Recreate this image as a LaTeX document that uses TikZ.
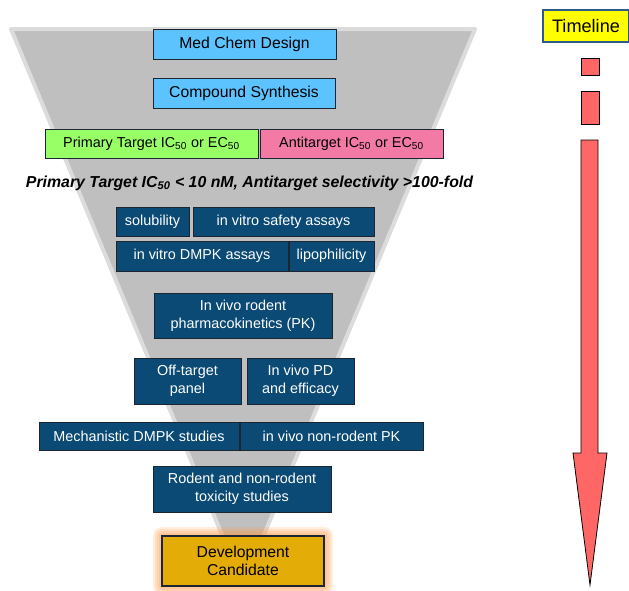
\documentclass[tikz,border=0pt]{standalone}
\usepackage{fontspec}
\setmainfont{Liberation Sans}
\usetikzlibrary{calc}
\definecolor{medblue}{HTML}{5CC3FF}
\definecolor{primgreen}{HTML}{99FF66}
\definecolor{antipink}{HTML}{F27AA4}
\definecolor{assay}{HTML}{0B4A74}
\definecolor{edge}{HTML}{1C2530}
\definecolor{funnelgrey}{HTML}{BFBFBF}
\definecolor{funnelrim}{HTML}{DCDCDC}
\definecolor{gold}{HTML}{E4AC06}
\definecolor{glow}{HTML}{FF9A4A}
\definecolor{tlyellow}{HTML}{FFFF00}
\definecolor{tlrim}{HTML}{2E5A8C}
\definecolor{tlred}{HTML}{FF6666}
\newcommand{\boxfont}{\fontsize{11.8}{14}\selectfont}
\newcommand{\cellfont}{\fontsize{10.8}{13.4}\selectfont}

\begin{document}
\begin{tikzpicture}[x=0.75pt,y=-0.75pt,
  lightbox/.style={draw=edge,line width=0.6pt,fill=medblue,inner sep=0,font=\boxfont},
  targetbox/.style={draw=edge,line width=0.6pt,inner sep=0,font=\cellfont},
  cell/.style={draw=edge,line width=0.6pt,fill=assay,text=white,inner sep=0,align=center,font=\cellfont}]
\useasboundingbox (0,0) rectangle (629,590);
% funnel
\filldraw[fill=funnelgrey,draw=funnelrim,line width=3pt,line join=round] (11,29) -- (475,29) -- (243,585) -- cycle;
% top of the funnel
\node[lightbox,minimum width=183*0.75pt,minimum height=30*0.75pt] (design) at (244.5,44) {Med Chem Design};
\node[lightbox,minimum width=182*0.75pt,minimum height=30*0.75pt] (synth) at (244,93.5) {Compound Synthesis};
\node[targetbox,fill=primgreen,minimum width=213*0.75pt,minimum height=29*0.75pt] (primary) at (151.5,143.5) {Primary Target IC\textsubscript{50} or EC\textsubscript{50}};
\node[targetbox,fill=antipink,minimum width=183*0.75pt,minimum height=29*0.75pt] (anti) at (351.5,143.5) {Antitarget IC\textsubscript{50} or EC\textsubscript{50}};
\node[inner sep=0,font=\fontsize{11.9}{14}\selectfont\bfseries\itshape] (criteria) at (249.5,183) {Primary Target IC\textsubscript{50} < 10 nM, Antitarget selectivity >100-fold};
% assay cells
\node[cell,minimum width=73*0.75pt,minimum height=29*0.75pt] (solub) at (152.5,221.5) {solubility};
\node[cell,minimum width=181*0.75pt,minimum height=29*0.75pt] (safety) at (283.5,221.5) {in vitro safety assays};
\node[cell,minimum width=172*0.75pt,minimum height=30*0.75pt] (dmpk) at (202,256) {in vitro DMPK assays};
\node[cell,minimum width=85*0.75pt,minimum height=30*0.75pt] (lipo) at (331.5,256) {lipophilicity};
\node[cell,minimum width=178*0.75pt,minimum height=45*0.75pt] (rodpk) at (243,315.5) {In vivo rodent\\pharmacokinetics (PK)};
\node[cell,minimum width=107*0.75pt,minimum height=46*0.75pt] (offtarget) at (187.5,381) {Off-target\\panel};
\node[cell,minimum width=107*0.75pt,minimum height=46*0.75pt] (pd) at (300.5,381) {In vivo PD\\and efficacy};
\node[cell,minimum width=200*0.75pt,minimum height=28*0.75pt] (mech) at (139,436) {Mechanistic DMPK studies};
\node[cell,minimum width=183*0.75pt,minimum height=28*0.75pt] (nonrodpk) at (331.5,436) {in vivo non-rodent PK};
\node[cell,minimum width=178*0.75pt,minimum height=46*0.75pt] (tox) at (242,489) {Rodent and non-rodent\\toxicity studies};
% candidate with its glow
\foreach \g in {9,7,5,3}
  \fill[glow,opacity=0.18,rounded corners=\g*0.75pt] ($(162,536)+(-\g,-\g)$) rectangle ($(324,586)+(\g,\g)$);
\node[draw=edge,line width=1.2pt,fill=gold,inner sep=0,align=center,font=\boxfont,minimum width=162*0.75pt,minimum height=50*0.75pt] (candidate) at (243,561) {Development\\Candidate};
% timeline
\node[draw=tlrim,line width=0.8pt,fill=tlyellow,inner sep=0,font=\fontsize{13.6}{15}\selectfont,minimum width=86*0.75pt,minimum height=32*0.75pt] (timeline) at (586,26) {Timeline};
\filldraw[fill=tlred,draw=black,line width=0.6pt] (581,58) rectangle (599,75);
\filldraw[fill=tlred,draw=black,line width=0.6pt] (581,91) rectangle (599,124);
\filldraw[fill=tlred,draw=black,line width=0.6pt,line join=miter] (581,140) -- (598,140) -- (598,453) -- (607,453) -- (590,585) -- (573,453) -- (581,453) -- cycle;
\end{tikzpicture}
\end{document}
